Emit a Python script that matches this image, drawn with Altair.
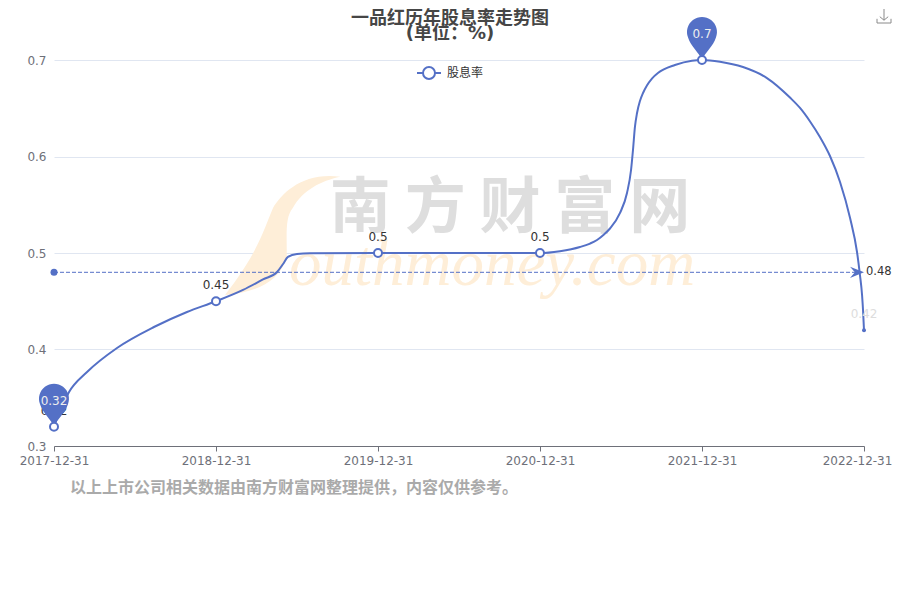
import altair as alt
import pandas as pd

FONT = "DejaVu Sans, Noto Sans CJK SC"
BLUE = "#5470c6"

dates = ["2017-12-31", "2018-12-31", "2019-12-31", "2020-12-31", "2021-12-31", "2022-12-31"]
positions = [0, 1, 2, 3, 4, 5]
yields = [0.32, 0.45, 0.5, 0.5, 0.7, 0.42]
pin_positions = [0, 4]
pin_values = [0.32, 0.7]
avg_value = 0.48
y_ticks = [0.3, 0.4, 0.5, 0.6, 0.7]

# The drawn curve
curve_x = [0, 0.049, 0.093, 0.204, 0.389, 0.617, 0.821, 1,
           1.167, 1.29, 1.377, 1.414, 1.444, 1.5, 1.58, 2, 3,
           3.123, 3.247, 3.309, 3.352, 3.395, 3.432, 3.494, 3.537, 3.562, 3.574, 3.586, 3.599, 3.617, 3.636, 3.66, 3.691, 3.728, 3.833, 3.938, 4,
           4.111, 4.253, 4.401, 4.543, 4.605, 4.667, 4.728, 4.79, 4.852, 4.914, 4.957, 4.975, 4.988, 4.994, 5]
curve_y = [0.32, 0.3415, 0.356, 0.3767, 0.4016, 0.4233, 0.4389, 0.45,
           0.4617, 0.4726, 0.4803, 0.4886, 0.4959, 0.499, 0.4997, 0.5, 0.5,
           0.5019, 0.5062, 0.5098, 0.5135, 0.5192, 0.5254, 0.5415, 0.5622, 0.586, 0.6067, 0.6306, 0.6451, 0.6575, 0.6658, 0.6736, 0.6808, 0.6865, 0.6948, 0.6993, 0.7,
           0.6982, 0.6927, 0.6813, 0.6611, 0.6503, 0.6363, 0.6202, 0.6005, 0.5736, 0.5363, 0.501, 0.4772, 0.4565, 0.4409, 0.42]

title_lines = ["一品红历年股息率走势图", "(单位：%)"]
note = "以上上市公司相关数据由南方财富网整理提供，内容仅供参考。"
series_name = "股息率"

points = pd.DataFrame({"x": positions, "v": yields, "s": series_name})
curve = pd.DataFrame({"x": curve_x, "v": curve_y})
pins = pd.DataFrame({"x": pin_positions, "v": pin_values})
avg = pd.DataFrame({"x": [positions[0], positions[-1]], "v": [avg_value, avg_value]})

xs = alt.Scale(domain=[0, 5], nice=False, zero=False)
ys = alt.Scale(domain=[0.3, 0.7], nice=False, zero=False)
label_expr = "[" + ",".join(f"'{d}'" for d in dates) + "][datum.value]"
X = alt.X("x:Q", scale=xs, title=None, axis=alt.Axis(
    values=positions, labelExpr=label_expr, grid=False, domainColor="#6e7079", tickColor="#6e7079",
    tickSize=5, labelColor="#6e7079", labelFontSize=12, labelPadding=4, labelFont=FONT,
    labelOffset=alt.expr("datum.value == 5 ? -7 : 0"),
    labelOverlap=False, labelBound=False, labelFlush=False))
Y = alt.Y("v:Q", scale=ys, title=None, axis=alt.Axis(
    values=y_ticks, format=".1f", domain=False, ticks=False, gridColor="#e0e6f1", labelColor="#6e7079",
    labelFontSize=12, labelPadding=8, labelFont=FONT, labelOverlap=False, labelBound=False, labelFlush=False))


def fixed_text(text, x, y, **mark):
    return alt.Chart(pd.DataFrame({"t": [text]})).mark_text(**mark).encode(
        x=alt.value(x), y=alt.value(y), text="t:N")


S_PATH = ("M.92,-.97 C.3,-1.05 -.05,-.7 -.2,-.45 C-.35,-.1 -.45,.3 -1,1 "
          "C-.5,.95 -.1,.8 .03,.37 C.03,0 0,-.3 .13,-.45 C.3,-.75 .6,-.9 .92,-.97 Z")
wm_s = alt.Chart(pd.DataFrame({"a": [1]})).mark_point(
    shape=S_PATH, filled=True, size=14400, color="#feeed8", opacity=1
).encode(x=alt.value(231), y=alt.value(175))
wm_cn = fixed_text("南 方 财 富 网", 456, 150, font="Noto Sans CJK SC", fontWeight="bold", fontSize=61,
                   color="#dedede", align="center", baseline="middle")
wm_en = fixed_text("outhmoney.com", 438, 205, font="Liberation Serif", fontStyle="italic", fontSize=65,
                   color="#feeed8", align="center", baseline="middle")

avg_line = alt.Chart(avg).mark_line(color=BLUE, strokeWidth=1, strokeDash=[4, 2]).encode(x=X, y=Y)
avg_dot = alt.Chart(avg.iloc[[0]]).mark_point(filled=True, color=BLUE, size=49, opacity=1).encode(x=X, y=Y)
ARROW = "M0,0 L-2,-.8 L-1.3,0 L-2,.8 Z"
avg_arrow = alt.Chart(avg.iloc[[1]]).mark_point(shape=ARROW, filled=True, color=BLUE, size=196, opacity=1).encode(x=X, y=Y)
avg_label = alt.Chart(avg.iloc[[1]]).mark_text(align="left", baseline="middle", dx=2, font=FONT, fontSize=11.5, color="#333333").encode(
    x=X, y=Y, text=alt.Text("v:Q", format=".2f"))

line = alt.Chart(curve).mark_line(color=BLUE, strokeWidth=2, interpolate="monotone").encode(x=X, y=Y)

labels = alt.Chart(points).mark_text(baseline="middle", dy=-16, font=FONT, fontSize=12).encode(
    x=X, y=Y, text=alt.Text("v:Q", format="~g"),
    color=alt.condition("datum.x == 5", alt.value("#dddddd"), alt.value("#333333")))

PIN = "M0,0 C-.2,-.5 -.75,-.9 -.93,-1.5 A1,1 0 1 1 .93,-1.5 C.75,-.9 .2,-.5 0,0 Z"
pin_marks = alt.Chart(pins).mark_point(shape=PIN, filled=True, color=BLUE, size=900, opacity=1).encode(x=X, y=Y)
pin_text = alt.Chart(pins).mark_text(baseline="middle", dy=-26, font=FONT, fontSize=12, color="#eeeeee").encode(
    x=X, y=Y, text=alt.Text("v:Q", format="~g"))

LEGEND_SYMBOL = "M-1,0 L-.5,0 M.5,0 L1,0 M-.5,0 A.5,.5 0 1 1 .5,0 A.5,.5 0 1 1 -.5,0 Z"
circles = alt.Chart(points[points.x < 5]).mark_point(
    filled=False, fill="white", fillOpacity=1, opacity=1, size=64, strokeWidth=2
).encode(
    x=X, y=Y,
    color=alt.Color("s:N", title=None, scale=alt.Scale(domain=[series_name], range=[BLUE]),
                    legend=alt.Legend(orient="none", legendX=362, legendY=0, symbolType=LEGEND_SYMBOL,
                                      symbolSize=576, symbolStrokeWidth=2, symbolFillColor="white",
                                      labelFont=FONT, labelFontSize=12, labelColor="#333333", labelOffset=5)))
last_dot = alt.Chart(points[points.x == 5]).mark_point(filled=True, color=BLUE, size=16, opacity=1).encode(x=X, y=Y)

title_1 = fixed_text(title_lines[0], 396, -41.5, font=FONT, fontWeight="bold", fontSize=18, color="#464646",
                     align="center", baseline="middle")
title_2 = fixed_text(title_lines[1], 396, -26.5, font=FONT, fontWeight="bold", fontSize=18, color="#464646",
                     align="center", baseline="middle")
note_text = fixed_text(note, 16, 428, font=FONT, fontWeight="bold", fontSize=16, color="#aaaaaa",
                       align="left", baseline="middle")
ICON = "M-1,.4 V1 H1 V.4 M0,-1 V.6 M-.6,.1 L0,.6 L.6,.1"
icon = alt.Chart(pd.DataFrame({"a": [1]})).mark_point(
    shape=ICON, filled=False, color="#8a8a8a", size=196, strokeWidth=1, opacity=1
).encode(x=alt.value(830), y=alt.value(-44))

chart = alt.layer(
    wm_s, wm_cn, wm_en, avg_line, avg_dot, avg_arrow, avg_label, line, labels,
    pin_marks, pin_text, circles, last_dot, title_1, title_2, note_text, icon
).properties(
    width=810, height=386,
    autosize=alt.AutoSizeParams(type="none"),
    padding={"left": 46, "top": 52, "right": 28, "bottom": 146},
).configure_view(stroke=None)

chart.save("out.html", embed_options={"renderer": "svg", "actions": False})
